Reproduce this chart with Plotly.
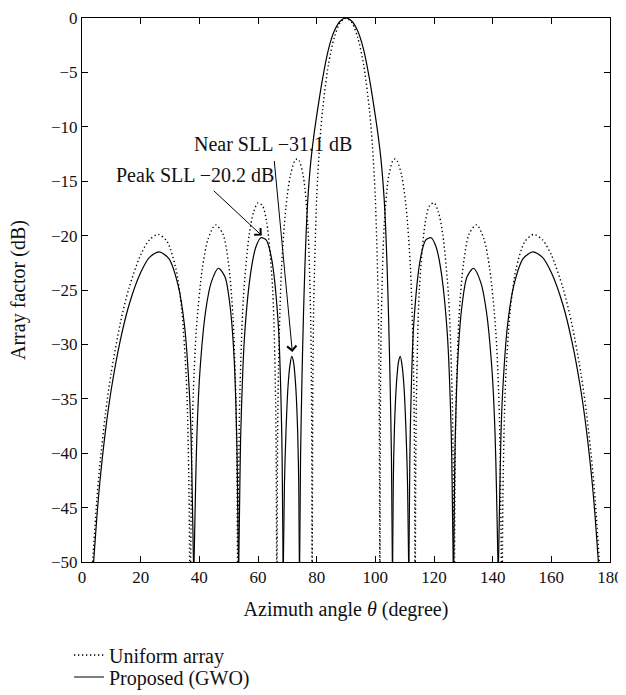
import plotly.graph_objects as go

# ---- data (angle in degrees, array factor in dB) ----
# Uniform array (dotted), one list per lobe, each lobe ends where it leaves the -50 dB floor
uni_theta = [
    3.63, 5, 6, 8, 10, 13, 16, 20, 23, 26, 29, 32, 34, 35.5, 36, 36.5, 36.69, None,
    37.05, 37.5, 38, 39, 41, 43, 45.5, 48, 50, 51.5, 52.5, 52.8, 53.01, None,
    53.25, 53.5, 53.8, 55, 57, 58.5, 60, 61.5, 63, 65, 66, 66.2, 66.35, None,
    66.5, 66.7, 67, 68, 69.5, 71, 72.5, 73.3, 74, 75.5, 77, 78, 78.25, 78.42, None,
    78.5, 78.7, 79, 80, 81, 82, 84, 86, 88, 90, 92, 94, 96, 98, 99, 100, 101, 101.3, 101.5, None,
    101.58, 101.75, 102, 103, 104.5, 106, 106.7, 107.5, 109, 110.5, 112, 113, 113.3, 113.5, None,
    113.65, 113.8, 114, 115, 117, 118.5, 120, 121.5, 123, 125, 126.2, 126.5, 126.75, None,
    126.99, 127.2, 127.5, 128.5, 130, 132, 134.5, 137, 139, 141, 142, 142.5, 142.95, None,
    143.31, 143.5, 144, 144.5, 146, 148, 151, 154, 157, 160, 164, 167, 170, 172, 174, 175, 176.37,
]
uni_db = [
    -50, -44.5, -41.3, -36.35, -32.53, -28.13, -24.84, -21.77, -20.39, -19.89, -20.54, -23.03, -26.82, -32.81, -36.6, -43.9, -50, None,
    -50, -39.17, -34.1, -28.56, -23.04, -20.30, -19.01, -19.83, -22.66, -27.6, -35.49, -41.0, -50, None,
    -50, -39.9, -34.8, -25.78, -19.90, -17.84, -16.99, -17.24, -18.82, -24.98, -35.03, -40.5, -50, None,
    -50, -38.4, -31.98, -23.10, -17.41, -14.51, -13.16, -12.96, -13.10, -14.62, -19.13, -28.2, -34.7, -50, None,
    -50, -33.6, -26.24, -16.53, -11.72, -8.49, -4.29, -1.80, -0.43, 0, -0.43, -1.80, -4.29, -8.49, -11.72, -16.53, -26.24, -33.6, -50, None,
    -50, -34.7, -28.2, -19.13, -14.62, -13.10, -12.96, -13.16, -14.51, -17.41, -23.10, -31.98, -38.4, -50, None,
    -50, -40.5, -35.03, -24.98, -18.82, -17.24, -16.99, -17.84, -19.90, -25.78, -34.8, -39.9, -50, None,
    -50, -41.0, -35.49, -27.6, -22.66, -19.83, -19.01, -20.30, -23.04, -28.56, -34.1, -39.17, -50, None,
    -50, -43.9, -36.6, -32.81, -26.82, -23.03, -20.54, -19.89, -20.39, -21.77, -24.84, -28.13, -32.53, -36.35, -41.3, -44.5, -50,
]

# Proposed (GWO) array (solid)
gwo_theta = [
    3.96, 5, 6, 8, 10, 13, 16, 20, 23, 26.3, 29.56, 32.8, 35.0, 36.6, 37.16, 37.7, 38.0, None,
    38.2, 38.71, 39.2, 40.17, 42.12, 44.06, 46.5, 48.76, 50.57, 51.92, 52.82, 53.09, 53.35, None,
    53.45, 53.81, 54.14, 55.47, 57.68, 59.34, 61.0, 62.78, 64.55, 66.92, 68.1, 68.34, 68.55, None,
    68.65, 69.0, 69.5, 70.2, 70.9, 71.5, 72.1, 72.8, 73.5, 73.9, 74.1, None,
    74.2, 74.5, 75, 75.5, 76, 76.5, 77, 78, 79, 80, 82, 84, 86, 88, 90,
    92, 94, 96, 98, 100, 101, 102, 103, 103.5, 104, 104.5, 105, 105.5, 105.8, None,
    105.9, 106.1, 106.5, 107.2, 107.9, 108.5, 109.1, 109.8, 110.5, 111.0, 111.35, None,
    111.45, 111.66, 111.9, 113.08, 115.45, 117.22, 119.0, 120.66, 122.32, 124.53, 125.86, 126.19, 126.55, None,
    126.65, 126.91, 127.18, 128.08, 129.43, 131.24, 133.5, 135.94, 137.88, 139.83, 140.8, 141.29, 141.8, None,
    142.0, 142.3, 142.84, 143.4, 145.0, 147.2, 150.44, 153.7, 157, 160, 164, 167, 170, 172, 174, 175, 176.04,
]
gwo_db = [
    -50, -46.1, -42.9, -37.95, -34.1, -29.7, -26.4, -23.4, -22.0, -21.5, -22.1, -24.6, -28.4, -34.4, -38.2, -45.5, -50, None,
    -50, -43.2, -38.1, -32.6, -27.0, -24.3, -23.0, -23.8, -26.7, -31.6, -39.5, -45, -50, None,
    -50, -43.1, -38.0, -29.0, -23.1, -21.0, -20.2, -20.4, -22.0, -28.2, -38.2, -43.7, -50, None,
    -50, -43, -38.3, -34.0, -31.9, -31.1, -31.6, -33.6, -37.8, -43, -50, None,
    -50, -40.5, -33, -27.3, -22.8, -19.2, -16.6, -13.2, -10.9, -9.0, -5.6, -2.9, -1.2, -0.3, 0,
    -0.3, -1.2, -2.9, -5.6, -9.0, -10.9, -13.2, -16.6, -19.2, -22.8, -27.3, -33, -40.5, -50, None,
    -50, -43, -37.8, -33.6, -31.6, -31.1, -31.9, -34.0, -38.3, -43, -50, None,
    -50, -43.7, -38.2, -28.2, -22.0, -20.4, -20.2, -21.0, -23.1, -29.0, -38.0, -43.1, -50, None,
    -50, -45, -39.5, -31.6, -26.7, -23.8, -23.0, -24.3, -27.0, -32.6, -38.1, -43.2, -50, None,
    -50, -45.5, -38.2, -34.4, -28.4, -24.6, -22.1, -21.5, -22.0, -23.4, -26.4, -29.7, -34.1, -37.95, -42.9, -46.1, -50,
]

x_ticks = [0, 20, 40, 60, 80, 100, 120, 140, 160, 180]
y_ticks = [0, -5, -10, -15, -20, -25, -30, -35, -40, -45, -50]
y_tick_text = ["0", "−5", "−10", "−15", "−20", "−25", "−30", "−35", "−40", "−45", "−50"]

series_names = ["Uniform array", "Proposed (GWO)"]
x_title = "Azimuth angle <i>θ</i> (degree)"
y_title = "Array factor (dB)"

FONT = "Liberation Serif, Times New Roman, serif"
INK = "#111"

# the page body keeps its default 8 px margin, so the figure is sized to fit inside it
W, H = 618, 687
ML, MR, MT, MB = 74, 16, 10, 133

fig = go.Figure()
fig.add_trace(go.Scatter(
    x=uni_theta, y=uni_db, mode="lines", name=series_names[0],
    line=dict(color="black", width=1.4, dash="1.3px,2.7px", shape="spline", smoothing=0.8),
    connectgaps=False, legend="legend", hoverinfo="skip",
))
fig.add_trace(go.Scatter(
    x=gwo_theta, y=gwo_db, mode="lines", name=series_names[1],
    line=dict(color="black", width=1.2, shape="spline", smoothing=0.8),
    connectgaps=False, legend="legend2", hoverinfo="skip",
))

axis_common = dict(
    showline=True, linecolor="black", linewidth=1, mirror="ticks",
    ticks="inside", ticklen=6, tickwidth=1, tickcolor="black",
    showgrid=False, zeroline=False, ticklabeloverflow="allow",
    tickfont=dict(family=FONT, size=17, color=INK),
)

fig.update_layout(
    width=W, height=H,
    paper_bgcolor="white", plot_bgcolor="white",
    margin=dict(l=ML, r=MR, t=MT, b=MB, autoexpand=False),
    font=dict(family=FONT, size=20, color=INK),
    xaxis=dict(range=[0, 180], tickvals=x_ticks, tickangle=0,
               title=dict(text=x_title, font=dict(family=FONT, size=20, color=INK)),
               **axis_common),
    yaxis=dict(range=[-50, 0], tickvals=y_ticks, ticktext=y_tick_text,
               **axis_common),
    legend=dict(xref="container", yref="container", x=61 / W, y=1 - 647 / H,
                xanchor="left", yanchor="middle", bgcolor="rgba(0,0,0,0)",
                font=dict(family=FONT, size=20, color=INK)),
    legend2=dict(xref="container", yref="container", x=61 / W, y=1 - 669 / H,
                 xanchor="left", yanchor="middle", bgcolor="rgba(0,0,0,0)",
                 font=dict(family=FONT, size=20, color=INK)),
    showlegend=True,
)

# y-axis title (placed as rotated text left of the tick labels)
plot_w = W - ML - MR
fig.add_annotation(x=(10 - ML) / plot_w, y=0.5, xref="paper", yref="paper", text=y_title,
                   showarrow=False, textangle=-90, xanchor="center", yanchor="middle",
                   font=dict(family=FONT, size=20, color=INK))

# annotation texts
fig.add_annotation(x=37.4, y=-11.6, xref="x", yref="y", text="Near SLL −31.1 dB",
                   showarrow=False, xanchor="left", yanchor="middle",
                   font=dict(family=FONT, size=20, color=INK))
fig.add_annotation(x=11.0, y=-14.4, xref="x", yref="y", text="Peak SLL −20.2 dB",
                   showarrow=False, xanchor="left", yanchor="middle",
                   font=dict(family=FONT, size=20, color=INK))
# arrows
fig.add_annotation(x=71.7, y=-30.7, ax=65.5, ay=-13.0, xref="x", yref="y", axref="x", ayref="y",
                   text="", showarrow=True, arrowhead=4, arrowsize=1.8, arrowwidth=1,
                   arrowcolor="black", standoff=0, startstandoff=0)
fig.add_annotation(x=61.3, y=-20.0, ax=44.4, ay=-15.75, xref="x", yref="y", axref="x", ayref="y",
                   text="", showarrow=True, arrowhead=4, arrowsize=1.8, arrowwidth=1,
                   arrowcolor="black", standoff=0, startstandoff=0)

fig.write_html("out.html")
